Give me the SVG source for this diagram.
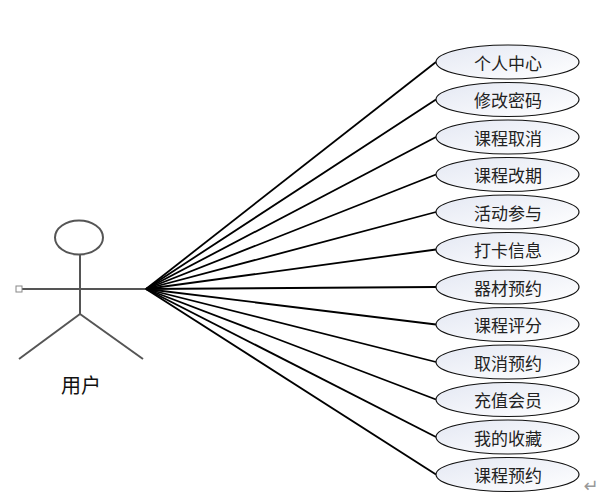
<svg xmlns="http://www.w3.org/2000/svg" width="612" height="504" viewBox="0 0 612 504">
<defs>
<linearGradient id="g" x1="0" y1="0" x2="1" y2="1">
<stop offset="0" stop-color="#e4e8f3"/>
<stop offset="1" stop-color="#ffffff"/>
</linearGradient>
<style>
.uc ellipse{fill:url(#g);stroke:#111;stroke-width:1.2}
.uc text{font-family:"Noto Sans CJK SC",sans-serif;font-size:17px;fill:#222;text-anchor:middle;dominant-baseline:central}
.fig{stroke:#555;stroke-width:2;fill:none}
#connectors line{stroke:#000;stroke-width:1.8}
</style>
</defs>
<rect width="612" height="504" fill="#fff"/>
<g id="actor">
<ellipse class="fig" cx="79" cy="237.5" rx="24" ry="17"/>
<line class="fig" x1="80" y1="255" x2="80" y2="314"/>
<line class="fig" x1="22" y1="289" x2="146" y2="289"/>
<line class="fig" x1="80" y1="314" x2="19" y2="359"/>
<line class="fig" x1="80" y1="314" x2="143" y2="359"/>
<rect x="16" y="286" width="6" height="6" fill="#fff" stroke="#888" stroke-width="1"/>
<text x="81" y="393" font-family="Noto Sans CJK SC,sans-serif" font-size="20" text-anchor="middle" fill="#111">用户</text>
</g>
<g id="connectors">
<line x1="146" y1="289" x2="436" y2="62"/>
<line x1="146" y1="289" x2="436" y2="99.5"/>
<line x1="146" y1="289" x2="436" y2="137"/>
<line x1="146" y1="289" x2="436" y2="174.5"/>
<line x1="146" y1="289" x2="436" y2="212"/>
<line x1="146" y1="289" x2="436" y2="249.5"/>
<line x1="146" y1="289" x2="436" y2="287"/>
<line x1="146" y1="289" x2="436" y2="324.5"/>
<line x1="146" y1="289" x2="436" y2="362"/>
<line x1="146" y1="289" x2="436" y2="399.5"/>
<line x1="146" y1="289" x2="436" y2="437"/>
<line x1="146" y1="289" x2="436" y2="474.5"/>
</g>
<g id="uc1" class="uc"><ellipse cx="507.5" cy="62" rx="71.5" ry="17"/><text x="508" y="62">个人中心</text></g>
<g id="uc2" class="uc"><ellipse cx="507.5" cy="99.5" rx="71.5" ry="17"/><text x="508" y="99.5">修改密码</text></g>
<g id="uc3" class="uc"><ellipse cx="507.5" cy="137" rx="71.5" ry="17"/><text x="508" y="137">课程取消</text></g>
<g id="uc4" class="uc"><ellipse cx="507.5" cy="174.5" rx="71.5" ry="17"/><text x="508" y="174.5">课程改期</text></g>
<g id="uc5" class="uc"><ellipse cx="507.5" cy="212" rx="71.5" ry="17"/><text x="508" y="212">活动参与</text></g>
<g id="uc6" class="uc"><ellipse cx="507.5" cy="249.5" rx="71.5" ry="17"/><text x="508" y="249.5">打卡信息</text></g>
<g id="uc7" class="uc"><ellipse cx="507.5" cy="287" rx="71.5" ry="17"/><text x="508" y="287">器材预约</text></g>
<g id="uc8" class="uc"><ellipse cx="507.5" cy="324.5" rx="71.5" ry="17"/><text x="508" y="324.5">课程评分</text></g>
<g id="uc9" class="uc"><ellipse cx="507.5" cy="362" rx="71.5" ry="17"/><text x="508" y="362">取消预约</text></g>
<g id="uc10" class="uc"><ellipse cx="507.5" cy="399.5" rx="71.5" ry="17"/><text x="508" y="399.5">充值会员</text></g>
<g id="uc11" class="uc"><ellipse cx="507.5" cy="437" rx="71.5" ry="17"/><text x="508" y="437">我的收藏</text></g>
<g id="uc12" class="uc"><ellipse cx="507.5" cy="474.5" rx="71.5" ry="17"/><text x="508" y="474.5">课程预约</text></g>
<text x="591" y="492" font-family="DejaVu Sans,sans-serif" font-size="18" fill="#999" text-anchor="middle">↵</text>
</svg>
